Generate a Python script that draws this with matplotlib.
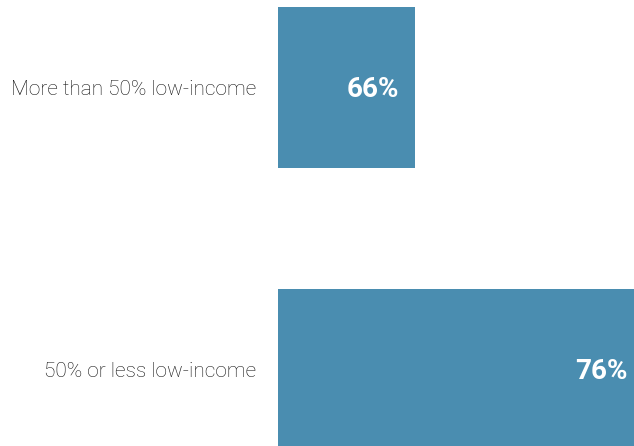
import matplotlib
matplotlib.use("Agg")
import matplotlib.pyplot as plt

categories = ["More than 50% low-income", "50% or less low-income"]
values = [66, 76]
value_labels = ["66%", "76%"]

BAR_COLOR = "#4A8DB0"
LABEL_COLOR = "#111111"

fig = plt.figure(figsize=(6.34, 4.46), dpi=100)
# axes start where the bars start; the left strip holds the category labels
ax = fig.add_axes([277.5 / 634, 0, 1 - 277.5 / 634, 1])

ypos = list(range(len(categories)))
ax.barh(ypos, [v - 60 for v in values], left=60, height=0.571,
        color=BAR_COLOR, edgecolor="none")

ax.set_xlim(60, 75.57)
ax.set_ylim(1.2713, -0.310)
ax.axis("off")

for y, cat, v, lab in zip(ypos, categories, values, value_labels):
    ax.annotate(cat, xy=(60, y), xytext=(-21, -2), textcoords="offset pixels",
                ha="right", va="center", fontsize=15, family="Roboto",
                fontweight="light", color=LABEL_COLOR, annotation_clip=False)
    ax.annotate(lab, xy=(v, y), xytext=(-16, -2), textcoords="offset pixels",
                ha="right", va="center", fontsize=20, family="Roboto",
                fontweight="bold", color="white", annotation_clip=False)

fig.savefig("out.png", dpi=100)
